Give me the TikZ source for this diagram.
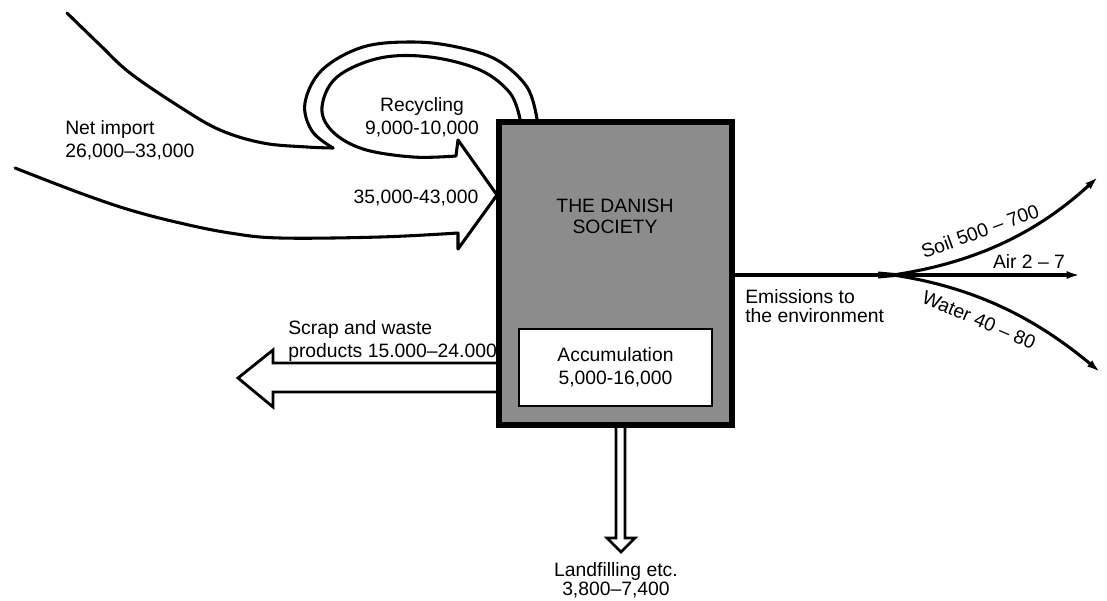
\documentclass[tikz,border=0pt]{standalone}
\usepackage{fontspec}
\setmainfont{Liberation Sans}
\usetikzlibrary{arrows.meta,calc}
\begin{document}
\begin{tikzpicture}[x=0.75pt,y=-0.75pt,
  lbl/.style={font=\fontsize{14.5pt}{17.25pt}\selectfont, inner sep=0pt, align=left},
  outline/.style={line width=2.3pt, line join=round, line cap=round},
  hollow/.style={line width=2.1pt, line join=miter},
  branch/.style={line width=2.3pt, -{Latex[length=10pt,width=6pt]}},
  societybox/.style={draw, line width=4.5pt, fill=black!45, inner sep=0pt,
    minimum width=174.75pt, minimum height=227.25pt},
  accbox/.style={draw, line width=1.6pt, fill=white, inner sep=0pt,
    minimum width=144.75pt, minimum height=57.75pt, align=center,
    font=\fontsize{14.5pt}{17.25pt}\selectfont}]
\useasboundingbox (0,0) rectangle (1107,600);

% ---- import + recycling flow (drawn as an outlined band) ----
\draw[outline] plot[smooth, tension=0.6] coordinates {(67,13) (100,45) (130,73) (180,107) (220,130) (263,143) (307,147) (333,148)};
\draw[outline] plot[smooth, tension=0.6] coordinates {(333,148) (312,131) (305,103) (322,70) (363,47) (413,42) (457,47) (497,60) (527,87) (537,119)};
\draw[outline] plot[smooth, tension=0.6] coordinates {(520,119) (510,93) (480,70) (430,57) (380,58) (337,77) (322,107) (332,131) (363,149) (413,157) (456,156)}
  -- (458,140) -- (497,195) -- (458,249) -- (458,233)
  -- plot[smooth, tension=0.6] coordinates {(458,233) (380,237) (280,238) (230,233) (180,223) (130,210) (80,193) (15,168)};

% label partly covered by the box edge, as in the reference
\node[lbl, anchor=west] (scrap) at (288,341) {Scrap and waste\\products 15.000--24.000};

% ---- society box ----
\node[societybox] (society) at (615.5,273.5) {};
\node[font=\fontsize{14.5pt}{15.75pt}\selectfont, inner sep=0pt, align=center] (title) at (615,216) {THE DANISH\\SOCIETY};
\node[accbox] (acc) at (615.5,367.5) {Accumulation\\5,000-16,000};

% ---- scrap and waste arrow ----
\coordinate (scrapTop) at (0,363);
\coordinate (scrapBot) at (0,392);
\draw[hollow] (society.west |- scrapTop) -- (273,363) -- (273,350) -- (238,378) -- (273,407) -- (273,392) -- (society.west |- scrapBot);

% ---- landfilling arrow ----
\coordinate (lfL) at (616,0);
\coordinate (lfR) at (625,0);
\draw[line width=1.9pt, line join=miter] (society.south -| lfL) -- (616,538) -- (607,538) -- (621,552) -- (635,538) -- (625,538) -- (society.south -| lfR);

% ---- emissions ----
\coordinate (emy) at (0,275);
\coordinate (fork) at (893,275);
\draw[line width=3.6pt] (society.east |- emy) -- (fork);
\fill (878,271.5) -- (918,275) -- (878,278.5) -- cycle;
\coordinate (soilend) at (1098,177);
\coordinate (airend) at (1080,275);
\coordinate (waterend) at (1100,372);
\draw[branch] (fork) .. controls (980,262) and (1040,230) .. (soilend);
\draw[branch] (fork) -- (airend);
\draw[branch] (fork) .. controls (980,288) and (1040,322) .. (waterend);

% ---- labels ----
\node[lbl, anchor=west] (netimport) at (65,140) {Net import\\26,000--33,000};
\node[lbl, align=center] (recycling) at (422,117) {Recycling\\9,000-10,000};
\node[lbl] (total) at (416,198) {35,000-43,000};
\node[lbl, anchor=west, font=\fontsize{14.5pt}{14.25pt}\selectfont] (emis) at (745,306) {Emissions to\\the environment};
\node[lbl, align=center, font=\fontsize{14.5pt}{12.75pt}\selectfont] (landfill) at (616,580) {Landfilling etc.\\3,800--7,400};
\node[lbl, rotate=20] (soil) at (980,231) {Soil 500 -- 700};
\node[lbl] (air) at (1029,261) {Air 2 -- 7};
\node[lbl, rotate=-23] (water) at (979,320) {Water 40 -- 80};
\end{tikzpicture}
\end{document}
